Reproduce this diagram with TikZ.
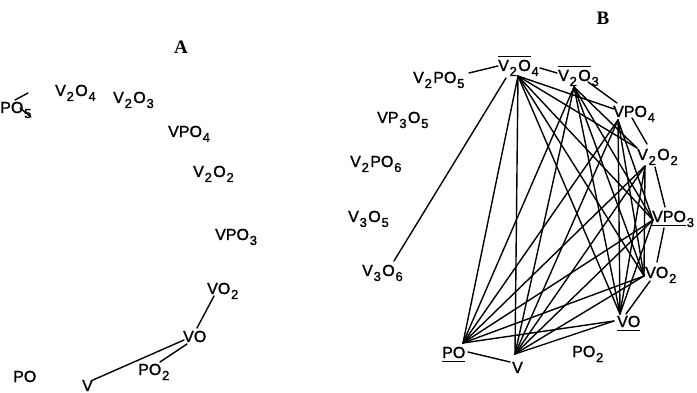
\documentclass[tikz,border=0pt]{standalone}
\usepackage{fontspec}
\setmainfont{Liberation Sans}[FakeBold=1.6,AutoFakeBold=1.6]
\newfontfamily\headfont{Liberation Serif}
\newfontfamily\letterfont{Liberation Sans}[FakeBold=1.4]

% lowered digit, nearly full size, as in hand lettering
\newcommand{\dn}[1]{\kern0.8pt\raisebox{-5pt}{\fontsize{13}{13}\selectfont #1}\kern1.4pt}
% bar above / below a group of letters
\newcommand{\ovl}[1]{\vbox{\hrule height 1.3pt\kern 2.5pt\hbox{#1}}}
\newcommand{\unl}[1]{\vtop{\hbox{#1}\kern 3pt\hrule height 1.3pt}}

\begin{document}
\begin{tikzpicture}[x=1pt, y=-1pt,
  lab/.style={anchor=base west, inner sep=0pt, font=\letterfont\fontsize{16}{16}\selectfont},
  link/.style={line width=1.4pt, line cap=round},
  panel/.style={inner sep=0pt, font=\headfont\bfseries\fontsize{19}{19}\selectfont}]
\useasboundingbox (0,0) rectangle (697,393);
\clip (0,0) rectangle (697,393);

% ---------------- panel A ----------------
\node[panel] (pa) at (181,47) {A};
\node[lab, anchor=base east] (a-po5) at (33,113) {PO\dn{5}};
\node[lab] (a-v2o4) at (55,96) {V\dn{2}O\dn{4}};
\node[lab] (a-v2o3) at (113,103) {V\dn{2}O\dn{3}};
\node[lab] (a-vpo4) at (168,137) {VPO\dn{4}};
\node[lab] (a-v2o2) at (193,177) {V\dn{2}O\dn{2}};
\node[lab] (a-vpo3) at (215,240) {VPO\dn{3}};
\node[lab] (a-vo2) at (207,294) {VO\dn{2}};
\node[lab] (a-vo) at (183,342) {VO};
\node[lab] (a-po2) at (138,375) {PO\dn{2}};
\node[lab] (a-po) at (13,382) {PO};
\node[lab] (a-v) at (82,391) {V};

\coordinate (a-s1a) at (28,93);  \coordinate (a-s1b) at (15,100);
\coordinate (a-s2a) at (20,108); \coordinate (a-s2b) at (31,117);
\coordinate (a-vr) at (93,380);
\coordinate (a-vol) at (184,340);
\coordinate (a-vob) at (187,344);
\coordinate (a-vot) at (197,328);
\coordinate (a-po2t) at (160,362);
\coordinate (a-vo2b) at (214,296);

\draw[link] (a-s1a) -- (a-s1b);
\draw[link] (a-s2a) -- (a-s2b);
\draw[link] (a-vr) -- (a-vol);
\draw[link] (a-po2t) -- (a-vob);
\draw[link] (a-vo2b) -- (a-vot);

% ---------------- panel B ----------------
\node[panel] (pb) at (603,18) {B};
\node[lab] (b-v2po5) at (413,83) {V\dn{2}PO\dn{5}};
\node[lab] (b-v2o4) at (498,71) {\ovl{V\dn{2}O}\dn{4}};
\node[lab] (b-v2o3) at (558,81) {\ovl{V\dn{2}O}\dn{3}};
\node[lab] (b-vp3o5) at (377,123) {VP\dn{3}O\dn{5}};
\node[lab] (b-vpo4) at (613,117) {VPO\dn{4}};
\node[lab] (b-v2po6) at (350,167) {V\dn{2}PO\dn{6}};
\node[lab] (b-v2o2) at (637,160) {V\dn{2}O\dn{2}};
\node[lab] (b-v3o5) at (348,222) {V\dn{3}O\dn{5}};
\node[lab] (b-vpo3) at (652,222) {\unl{VPO}\dn{3}};
\node[lab] (b-v3o6) at (362,276) {V\dn{3}O\dn{6}};
\node[lab] (b-vo2) at (645,278) {VO\dn{2}};
\node[lab] (b-vo) at (617,327) {\unl{VO}};
\node[lab] (b-po) at (442,358) {\unl{PO}};
\node[lab] (b-v) at (512,373) {V};
\node[lab] (b-po2) at (572,357) {PO\dn{2}};

% meeting points of the connectors
\coordinate (b24) at (518,76);
\coordinate (b24l) at (498,66);
\coordinate (b24r) at (540,68);
\coordinate (b24d) at (506,78);
\coordinate (b23) at (574,87);
\coordinate (b23l) at (557,73);
\coordinate (b23r) at (588,82);
\coordinate (b14i) at (614,109);
\coordinate (b14) at (618,120);
\coordinate (b14t) at (617,103);
\coordinate (b14r) at (632,118);
\coordinate (b22i) at (637,148);
\coordinate (b22) at (645,166);
\coordinate (b22t) at (647,144);
\coordinate (b22r) at (655,167);
\coordinate (b13) at (653,220);
\coordinate (b13t) at (665,207);
\coordinate (b13b) at (664,228);
\coordinate (b12) at (644,276);
\coordinate (b12t) at (657,262);
\coordinate (b12b) at (650,281);
\coordinate (b10) at (620,314);
\coordinate (b10t) at (626,314);
\coordinate (b10l) at (614,321);
\coordinate (bpo) at (463,343);
\coordinate (bpor) at (468,352);
\coordinate (bv) at (515,354);
\coordinate (bvl) at (510,362);
\coordinate (b25r) at (469,73);
\coordinate (b36t) at (394,261);

% neighbours round the ring
\draw[link] (b25r) -- (b24l);
\draw[link] (b24r) -- (b23l);
\draw[link] (b23r) -- (b14t);
\draw[link] (b14r) -- (b22t);
\draw[link] (b22r) -- (b13t);
\draw[link] (b13b) -- (b12t);
\draw[link] (b12b) -- (b10t);
\draw[link] (bpor) -- (bvl);
\draw[link] (b24d) -- (b36t);

% chords
\foreach \s/\t in {b24/b14i, b24/b22i, b24/b13, b24/b12, b24/b10, b24/bpo, b24/bv,
                   b23/b22i, b23/b13, b23/b12, b23/b10, b23/bpo, b23/bv,
                   b14/b13, b14/b12, b14/b10, b14/bpo, b14/bv,
                   b22/b12, b22/b10, b22/bpo, b22/bv,
                   b13/b10, b13/bpo, b13/bv,
                   b12/bpo, b12/bv,
                   b10l/bpo, b10l/bv}
  \draw[link] (\s) -- (\t);
\end{tikzpicture}
\end{document}
